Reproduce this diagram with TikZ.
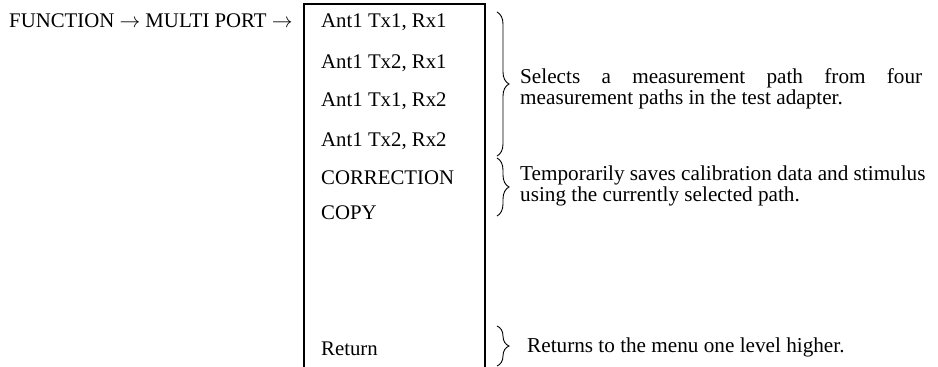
\documentclass[tikz,border=0pt]{standalone}
\usepackage{fontspec}
\setmainfont{Liberation Serif}
\usetikzlibrary{decorations.pathreplacing}
\begin{document}
\begin{tikzpicture}[x=1pt,y=-1pt,
  item/.style={anchor=base west,inner sep=0pt,font=\fontsize{20.8}{23}\selectfont},
  desc/.style={anchor=base west,inner sep=0pt,font=\fontsize{21.2}{21}\selectfont,align=justify},
  brc/.style={decorate,decoration={brace,amplitude=12pt},line width=0.9pt},
  box/.style={line width=1.2pt}]
\useasboundingbox (0,0) rectangle (938,367);
% menu box (open at bottom)
\coordinate (bl) at (304,367);
\coordinate (tl) at (304,4);
\coordinate (tr) at (485,4);
\coordinate (br) at (485,367);
\draw[box] (bl) -- (tl) -- (tr) -- (br);
% path text
\node[item] (path) at (9,27) {FUNCTION $\rightarrow$ MULTI PORT $\rightarrow$};
% menu items
\node[item] (m1) at (321,27) {Ant1 Tx1, Rx1};
\node[item] (m2) at (321,68) {Ant1 Tx2, Rx1};
\node[item] (m3) at (321,106) {Ant1 Tx1, Rx2};
\node[item] (m4) at (321,146) {Ant1 Tx2, Rx2};
\node[item] (m5) at (321,184) {CORRECTION};
\node[item] (m6) at (321,219) {COPY};
\node[item] (m7) at (321,355) {Return};
% braces
\coordinate (b1t) at (497,12);
\coordinate (b1b) at (497,156);
\coordinate (b2t) at (497,158);
\coordinate (b2b) at (497,216);
\coordinate (b3t) at (497,326);
\coordinate (b3b) at (497,366);
\draw[brc] (b1t) -- (b1b);
\draw[brc] (b2t) -- (b2b);
\draw[brc] (b3t) -- (b3b);
% descriptions
\node[desc,text width=402pt] (d1) at (520,83) {Selects a measurement path from four\linebreak measurement paths in the test adapter.};
\node[desc,text width=418pt] (d2) at (520,180) {Temporarily saves calibration data and stimulus\\using the currently selected path.};
\node[desc] (d3) at (527,352) {Returns to the menu one level higher.};
\end{tikzpicture}
\end{document}
